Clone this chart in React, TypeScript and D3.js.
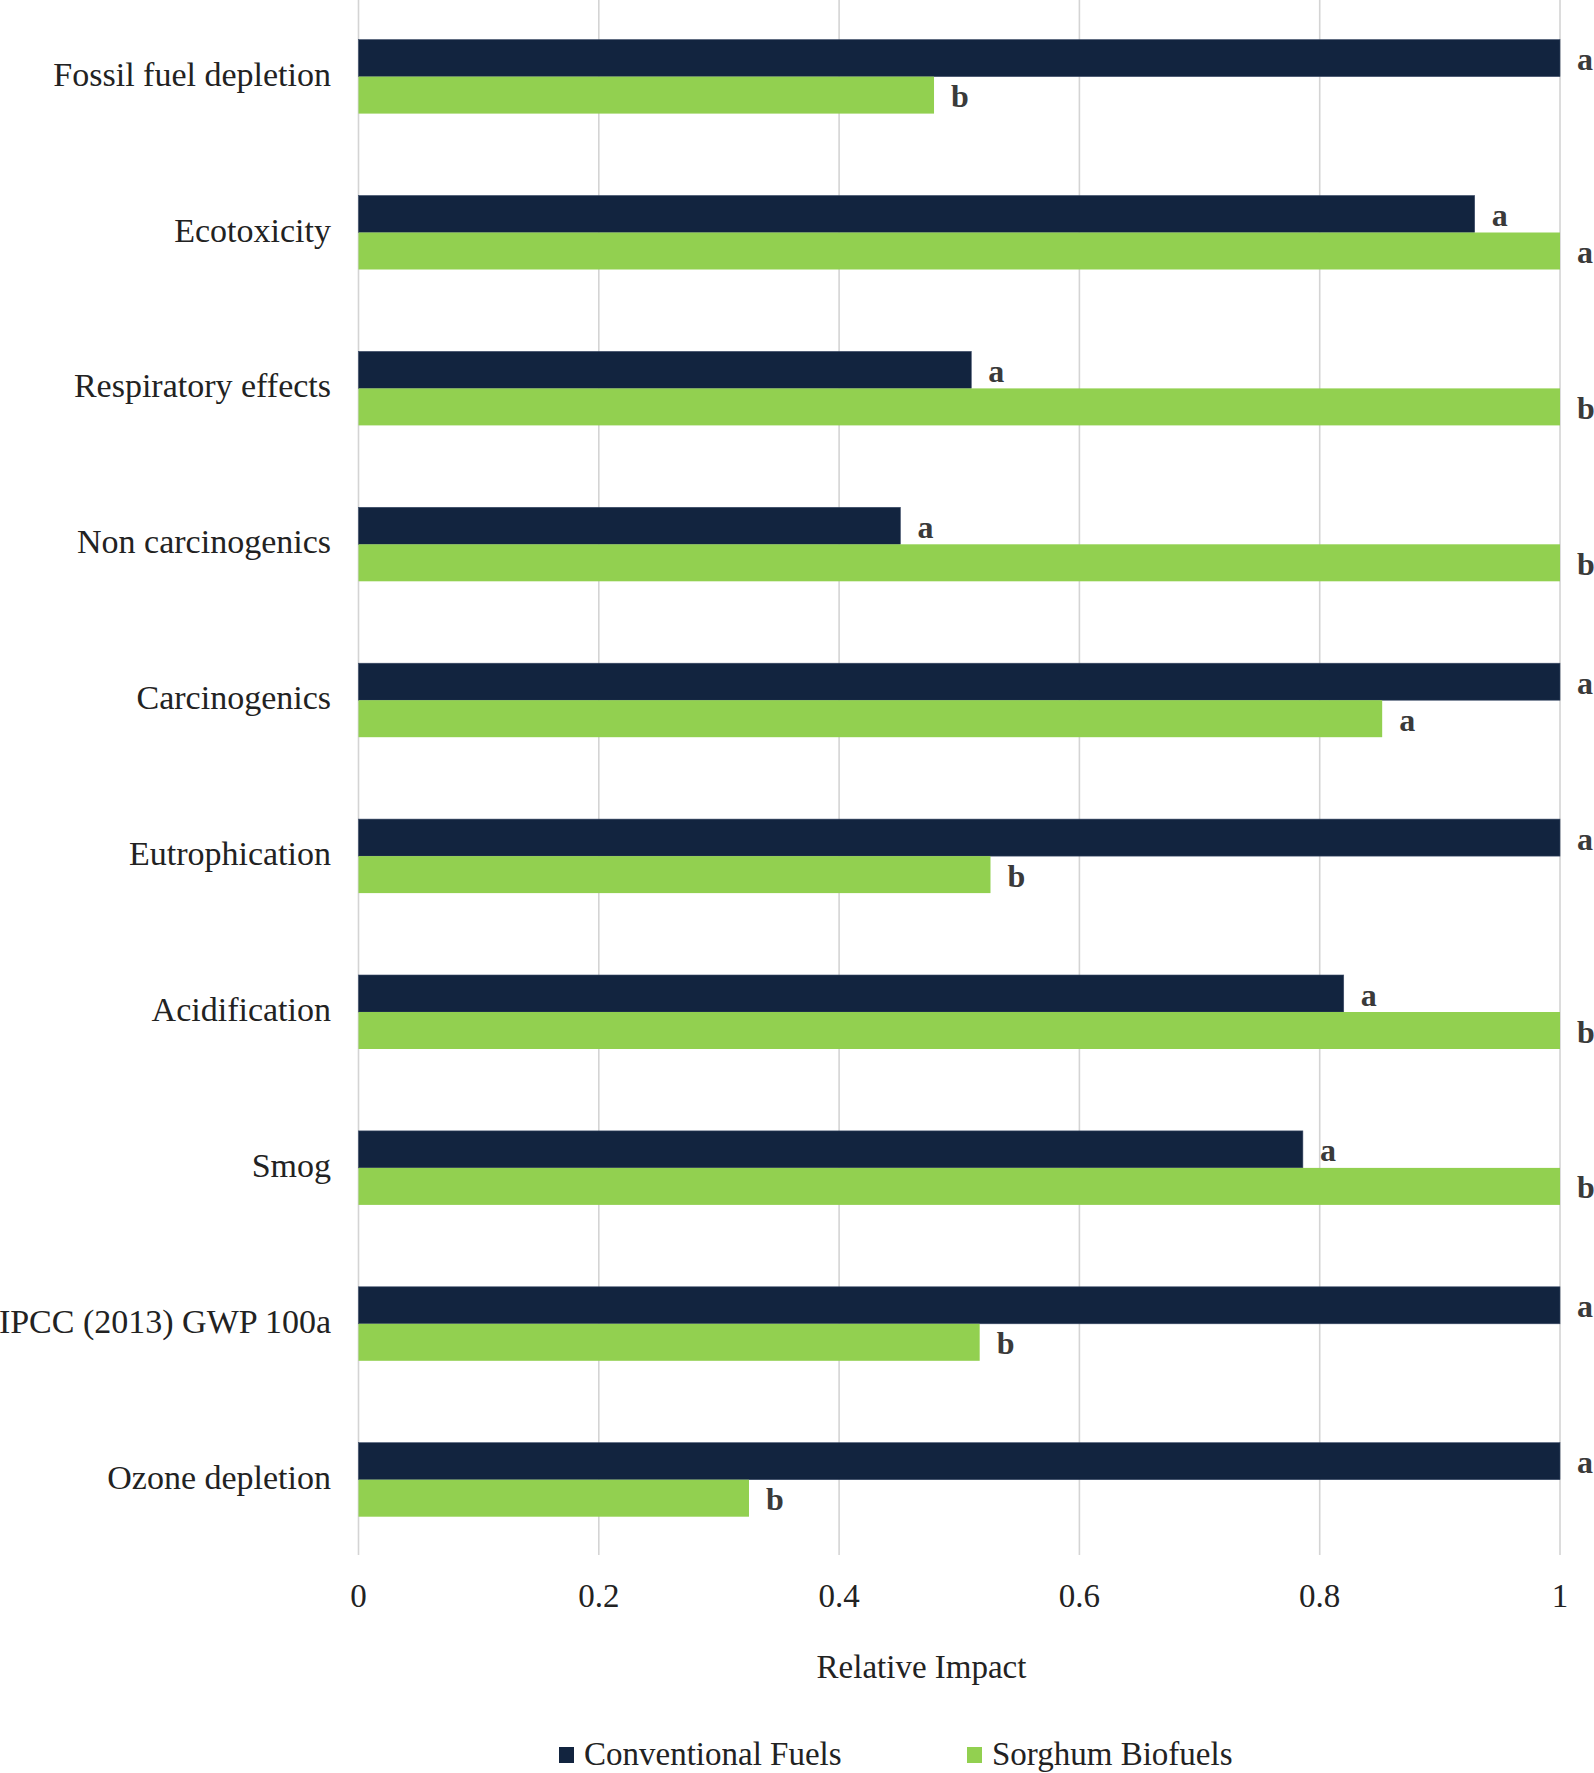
import React from "react";
import * as d3 from "d3";

const categories = [
  "Fossil fuel depletion",
  "Ecotoxicity",
  "Respiratory effects",
  "Non carcinogenics",
  "Carcinogenics",
  "Eutrophication",
  "Acidification",
  "Smog",
  "IPCC (2013) GWP 100a",
  "Ozone depletion",
];
const conventional = [1.0, 0.929, 0.51, 0.451, 1.0, 1.0, 0.82, 0.786, 1.0, 1.0];
const sorghum = [0.479, 1.0, 1.0, 1.0, 0.852, 0.526, 1.0, 1.0, 0.517, 0.325];
const convLetters = ["a", "a", "a", "a", "a", "a", "a", "a", "a", "a"];
const sorgLetters = ["b", "a", "b", "b", "a", "b", "b", "b", "b", "b"];
const xTicks = [0, 0.2, 0.4, 0.6, 0.8, 1];
const seriesNames = ["Conventional Fuels", "Sorghum Biofuels"];
const colors = ["#12243f", "#92d050"];

const W = 1594;
const H = 1773;
const FONT = "'Liberation Serif', 'Times New Roman', serif";

export default function App() {
  const x = d3.scaleLinear().domain([0, 1]).range([358.5, 1560]);
  const y = d3.scaleBand().domain(categories).range([-1.35, 1557.65]).paddingInner(0).paddingOuter(0);
  const band = y.bandwidth();
  const barH = 37;
  const gridBottom = 1555;

  return (
    <svg width={W} height={H} style={{ position: "absolute", left: 0, top: 0, display: "block", background: "#fff" }}>
      <rect x={0} y={0} width={W} height={H} fill="#fff" />
      {xTicks.map((t) => (
        <line key={"g" + t} x1={x(t)} x2={x(t)} y1={0} y2={gridBottom} stroke="#d4d4d4" strokeWidth={1.6} />
      ))}
      {categories.map((c, i) => {
        const cy = (y(c) as number) + band / 2;
        return (
          <g key={c}>
            <rect x={x(0)} y={cy - barH} width={x(conventional[i]) - x(0)} height={barH} fill={colors[0]} stroke="#3a4a66" strokeWidth={0.6} />
            <rect x={x(0)} y={cy} width={x(sorghum[i]) - x(0)} height={barH} fill={colors[1]} />
            <text x={x(conventional[i]) + 17} y={cy - barH / 2 + 12} fontFamily={FONT} fontWeight="bold" fontSize={32} fill="#3a3a3a">
              {convLetters[i]}
            </text>
            <text x={x(sorghum[i]) + 17} y={cy + barH / 2 + 12} fontFamily={FONT} fontWeight="bold" fontSize={32} fill="#3a3a3a">
              {sorgLetters[i]}
            </text>
            <text x={331} y={cy + 9} textAnchor="end" fontFamily={FONT} fontSize={34} fill="#222">
              {c}
            </text>
          </g>
        );
      })}
      {xTicks.map((t) => (
        <text key={"t" + t} x={x(t)} y={1607} textAnchor="middle" fontFamily={FONT} fontSize={33} fill="#222">
          {d3.format("~g")(t)}
        </text>
      ))}
      <text x={921.5} y={1678} textAnchor="middle" fontFamily={FONT} fontSize={33} fill="#222">
        Relative Impact
      </text>
      {seriesNames.map((s, i) => {
        const lx = i === 0 ? 559 : 967;
        return (
          <g key={s}>
            <rect x={lx} y={1747} width={15} height={16} fill={colors[i]} />
            <text x={lx + 25} y={1765} fontFamily={FONT} fontSize={33} fill="#222">
              {s}
            </text>
          </g>
        );
      })}
    </svg>
  );
}
